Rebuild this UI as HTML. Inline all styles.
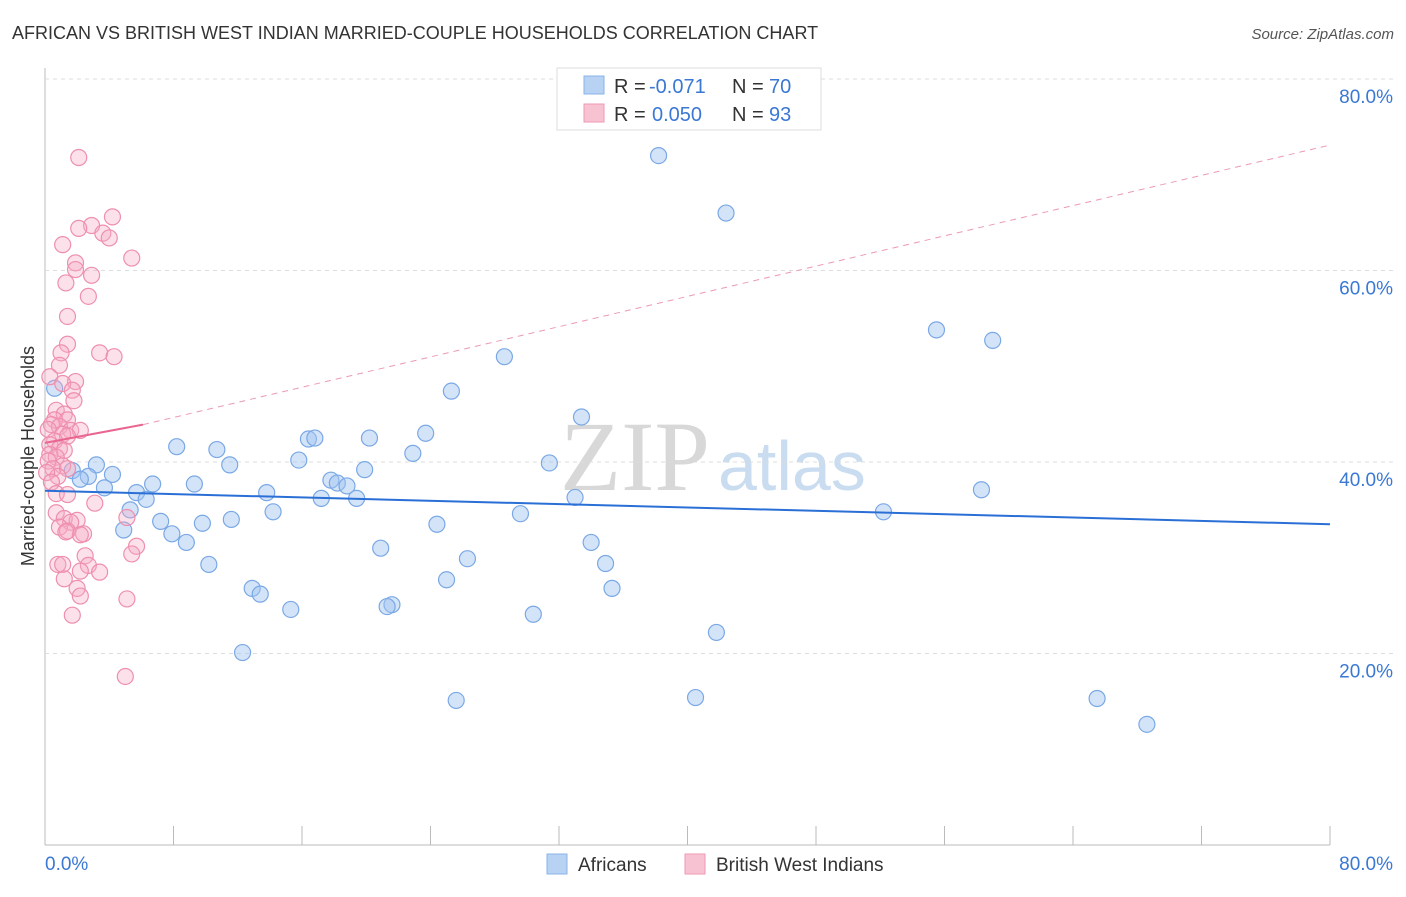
<!DOCTYPE html>
<html><head><meta charset="utf-8"><style>
body{margin:0;background:#fff;font-family:"Liberation Sans",sans-serif}
#c{position:relative;width:1406px;height:892px}
</style></head><body>
<div id="c">
<svg id="s" width="1406" height="892" xmlns="http://www.w3.org/2000/svg">
<text x="12" y="39" font-size="18" fill="#333">AFRICAN VS BRITISH WEST INDIAN MARRIED-COUPLE HOUSEHOLDS CORRELATION CHART</text>
<text x="1394" y="39" font-size="15" fill="#555" font-style="italic" text-anchor="end">Source: ZipAtlas.com</text>
<text x="34" y="456" font-size="18" fill="#333" text-anchor="middle" transform="rotate(-90 34 456)">Married-couple Households</text>
<text x="560" y="490" font-size="100" fill="#d8d8d8" font-family="Liberation Serif,serif">ZIP</text>
<text x="718" y="490" font-size="70" fill="#c9dcf0">atlas</text>
<g id="grid"></g><g id="pts"></g><g id="lines"></g>
<g>
<rect x="557" y="68" width="264" height="62" fill="#fff" stroke="#ddd"/>
<rect x="584" y="76" width="20" height="18" fill="#b7d2f3" stroke="#8ab4e8"/>
<text x="614" y="93" font-size="20" fill="#333">R =</text><text x="649" y="93" font-size="20" fill="#3a78d4">-0.071</text>
<text x="732" y="93" font-size="20" fill="#333">N =</text><text x="769" y="93" font-size="20" fill="#3a78d4">70</text>
<rect x="584" y="104" width="20" height="18" fill="#f7c3d3" stroke="#ef9ab4"/>
<text x="614" y="121" font-size="20" fill="#333">R =</text><text x="652" y="121" font-size="20" fill="#3a78d4">0.050</text>
<text x="732" y="121" font-size="20" fill="#333">N =</text><text x="769" y="121" font-size="20" fill="#3a78d4">93</text>
</g>
<g>
<rect x="547" y="854" width="20" height="20" fill="#b7d2f3" stroke="#8ab4e8"/>
<text x="578" y="871" font-size="19" fill="#333">Africans</text>
<rect x="685" y="854" width="20" height="20" fill="#f7c3d3" stroke="#ef9ab4"/>
<text x="716" y="871" font-size="19" fill="#333">British West Indians</text>
</g>
</svg></div>
<script>
const xTicks=[8,16,24,32,40,48,56,64,72,80];
const yTicks=[20,40,60,80];
const africanX=[38.2,42.4,55.5,59,28.6,25.3,33.4,8.2,10.7,11.5,16.4,16.8,15.8,20.2,23.7,22.9,19.9,31.4,58.3,3.2,1.7,2.7,4.2,2.2,3.7,6.7,9.3,5.7,6.3,13.8,17.2,17.8,18.2,18.8,19.4,33,5.3,7.2,14.2,29.6,52.2,11.6,9.8,24.4,4.9,7.9,8.8,20.9,34,26.3,34.9,10.2,25,12.9,13.4,35.3,21.6,21.3,15.3,30.4,41.8,12.3,25.6,40.5,65.5,68.6,0.6];
const africanY=[72,66,53.8,52.7,51,47.4,44.7,41.6,41.3,39.7,42.4,42.5,40.2,42.5,43,40.9,39.2,39.9,37.1,39.7,39.1,38.5,38.7,38.2,37.3,37.7,37.7,36.8,36.1,36.8,36.2,38.1,37.8,37.5,36.2,36.3,35,33.8,34.8,34.6,34.8,34,33.6,33.5,32.9,32.5,31.6,31,31.6,29.9,29.4,29.3,27.7,26.8,26.2,26.8,25.1,24.9,24.6,24.1,22.2,20.1,15.1,15.4,15.3,12.6,47.7];
const bwiX=[2.1,4.2,2.9,2.1,3.6,4,1.1,5.4,1.9,1.9,2.9,1.3,2.7,1.4,1.4,1,3.4,4.3,0.9,0.3,1.9,1.1,1.7,1.8,0.7,1.2,1.4,0.6,0.4,0.9,0.2,1.6,2.2,1.1,1.4,0.6,0.3,0.9,1.2,0.3,0.7,0.2,1.1,0.5,1.4,0.8,0.1,0.4,0.7,1.4,3.1,5.1,0.7,1.2,2,1.6,0.9,1.4,2.4,2.2,1.3,5.7,5.4,2.5,0.8,1.1,2.7,2.2,3.4,1.2,2,2.2,5.1,1.7,5];
const bwiY=[71.8,65.6,64.7,64.4,63.9,63.4,62.7,61.3,60.8,60.1,59.5,58.7,57.3,55.2,52.3,51.4,51.4,51,50.1,48.9,48.4,48.2,47.5,46.4,45.4,45,44.4,44.4,43.9,43.7,43.4,43.3,43.3,42.9,42.7,42.2,41.8,41.4,41.2,40.8,40.5,40.1,39.6,39.3,39.3,38.5,38.9,37.9,36.7,36.6,35.7,34.2,34.7,34.1,33.9,33.7,33.2,32.8,32.5,32.4,32.7,31.2,30.4,30.2,29.3,29.3,29.2,28.6,28.5,27.8,26.8,26,25.7,24,17.6];
const X=v=>45+v*(1285/80), Y=v=>845-v*(766/80);
const ns="http://www.w3.org/2000/svg";
function mk(t,a,p){const e=document.createElementNS(ns,t);for(const k in a)e.setAttribute(k,a[k]);document.getElementById(p).appendChild(e);return e;}
mk('line',{x1:45,y1:845,x2:1330,y2:845,stroke:'#bbb'},'grid');
mk('line',{x1:45,y1:68,x2:45,y2:845,stroke:'#bbb'},'grid');
yTicks.forEach(t=>{
 const l=mk('line',{x1:45,y1:Y(t),x2:1394,y2:Y(t),stroke:'#ddd','stroke-dasharray':'4,4'},'grid');
 
 
 const tx=mk('text',{x:1393,y:Y(t)+24,'font-size':19,fill:'#3a78d4','text-anchor':'end'},'grid');tx.textContent=t.toFixed(1)+'%';
 
 
});
xTicks.forEach(t=>{
 const l=mk('line',{x1:X(t),y1:826,x2:X(t),y2:845,stroke:'#bbb'},'grid');
 
 
});
[[0,'start',45],[80,'end',1393]].forEach(([t,a,x])=>{
 const tx=mk('text',{x:x,y:870,'font-size':19,fill:'#3a78d4','text-anchor':a},'grid');tx.textContent=t.toFixed(1)+'%';
 
 
});
africanX.forEach((v,i)=>{
 const c=mk('circle',{cx:X(v),cy:Y(africanY[i]),r:8,fill:'rgba(160,196,240,0.45)',stroke:'#7aa8e6','stroke-width':1.2},'pts');
 
 
});
bwiX.forEach((v,i)=>{
 const c=mk('circle',{cx:X(v),cy:Y(bwiY[i]),r:8,fill:'rgba(245,170,195,0.35)',stroke:'#ee8fae','stroke-width':1.2},'pts');
 
 
});
let l=mk('line',{x1:X(0),y1:Y(37),x2:X(80),y2:Y(33.5),stroke:'#2a6fd6','stroke-width':2},'lines');


l=mk('line',{x1:X(6.1),y1:Y(43.9),x2:X(80),y2:Y(73.1),stroke:'#ec9ab3','stroke-width':1,'stroke-dasharray':'6,5'},'lines');


l=mk('line',{x1:X(0),y1:Y(42),x2:X(6.1),y2:Y(43.9),stroke:'#e8668f','stroke-width':2},'lines');


</script></body></html>
